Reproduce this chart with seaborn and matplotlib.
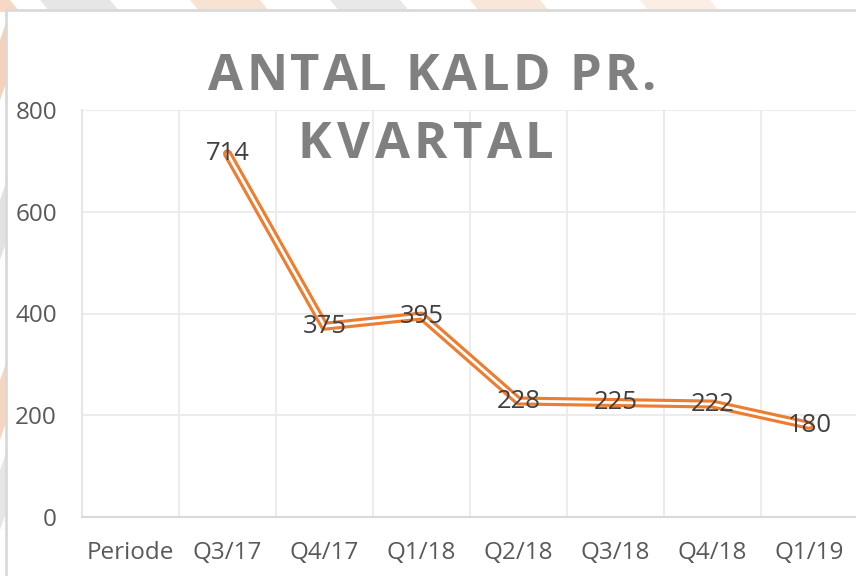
import matplotlib
matplotlib.use("Agg")
import matplotlib.pyplot as plt
import seaborn as sns
import pandas as pd
from matplotlib.patches import Rectangle, Polygon

categories = ["Periode", "Q3/17", "Q4/17", "Q1/18", "Q2/18", "Q3/18", "Q4/18", "Q1/19"]
series_cats = ["Q3/17", "Q4/17", "Q1/18", "Q2/18", "Q3/18", "Q4/18", "Q1/19"]
values = [714, 375, 395, 228, 225, 222, 180]
yticks = [0, 200, 400, 600, 800]
title_lines = ["ANTAL KALD PR.", "KVARTAL"]

sns.set_theme(style="white")
plt.rcParams['font.family'] = ['Open Sans', 'DejaVu Sans']

W, H = 856, 576
fig = plt.figure(figsize=(W / 100, H / 100), dpi=100)

# decorative background stripes outside the chart frame
bg = fig.add_axes([0, 0, 1, 1], zorder=-10)
bg.set_xlim(0, W); bg.set_ylim(H, 0); bg.axis("off")
for x0, col in [(-60, "#f6d9c4"), (40, "#e6e6e6"), (190, "#f8e3d3"), (330, "#e8e8e8"), (470, "#f9e6d8"), (640, "#fbeee4")]:
    bg.add_patch(Polygon([(x0, 0), (x0 + 70, 0), (x0 + 80, 12), (x0 + 10, 12)], closed=True, color=col, lw=0))
for y0, col in [(40, "#f3d2bd"), (200, "#e2e2e2"), (380, "#f5d6c2"), (470, "#e6e6e6")]:
    bg.add_patch(Polygon([(0, y0), (7, y0 - 20), (7, y0 + 40), (0, y0 + 60)], closed=True, color=col, lw=0))
bg.add_patch(Rectangle((6, 10), 860, 580, facecolor="white", edgecolor="#d9d9d9", lw=2))

ax = fig.add_axes([82 / W, 59 / H, 776 / W, 407 / H])
ax.set_facecolor("none")

pos = {c: i for i, c in enumerate(categories)}
df = pd.DataFrame({"x": [pos[c] for c in series_cats], "y": values})

sns.lineplot(data=df, x="x", y="y", ax=ax, color="#ED7D31", lw=6.5, zorder=3)
sns.lineplot(data=df, x="x", y="y", ax=ax, color="white", lw=2, zorder=4)

for xi, yi in zip(df["x"], df["y"]):
    ax.text(xi, yi, str(yi), ha="center", va="center", fontsize=18.5,
            color="#404040", zorder=5)

ax.set_xlim(-0.5, len(categories) - 0.5)
ax.set_ylim(0, 800)
ax.set_xticks(range(len(categories)))
ax.set_xticklabels(categories)
ax.set_xticks([i - 0.5 for i in range(len(categories) + 1)], minor=True)
ax.set_yticks(yticks)
ax.set_yticklabels([str(v) for v in yticks])
ax.tick_params(axis="both", which="both", length=0, labelsize=17.5, labelcolor="#595959")
ax.tick_params(axis="y", pad=18)
ax.tick_params(axis="x", pad=17)
ax.grid(True, axis="y", which="major", color="#ececec", lw=1.5)
ax.grid(True, axis="x", which="minor", color="#ececec", lw=1.5)
ax.grid(False, axis="x", which="major")
ax.set_xlabel("")
ax.set_ylabel("")
for s in ["top", "right"]:
    ax.spines[s].set_visible(False)
ax.spines["left"].set_color("#e6e6e6")
ax.spines["left"].set_linewidth(1.5)
ax.spines["bottom"].set_color("#d9d9d9")
ax.spines["bottom"].set_linewidth(1.5)

# title with letter spacing, placed character by character
renderer = fig.canvas.get_renderer()
tkw = dict(fontsize=36.5, fontweight="bold", color="#808080", va="baseline", ha="left", zorder=6)

def text_width(s):
    t = fig.text(0, 0, s + "I", **tkw)
    w1 = t.get_window_extent(renderer).width
    t.remove()
    t = fig.text(0, 0, "I", **tkw)
    w0 = t.get_window_extent(renderer).width
    t.remove()
    return w1 - w0

starts = [208, 298]
ends = [655, 553]
baselines = [90, 158]
for line, x0, x1, yb in zip(title_lines, starts, ends, baselines):
    natural = text_width(line)
    spacing = ((x1 - x0) - natural) / (len(line) - 1)
    for i, ch in enumerate(line):
        if ch == " ":
            continue
        xpix = x0 + text_width(line[:i]) + i * spacing
        fig.text(xpix / W, 1 - yb / H, ch, **tkw)

fig.savefig("out.png", dpi=100)
